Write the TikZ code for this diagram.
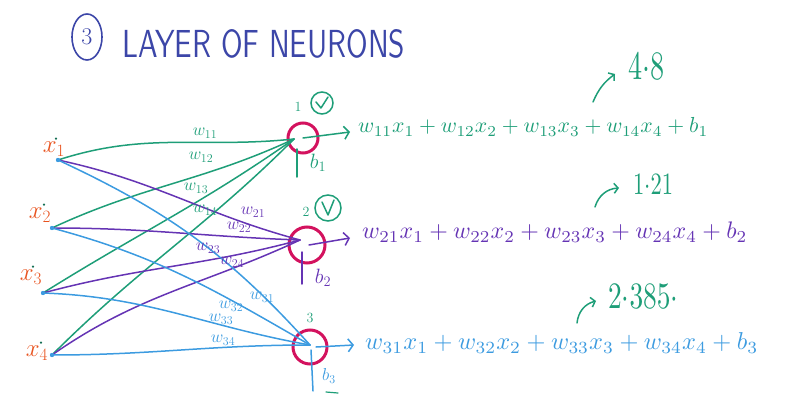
\documentclass[tikz,border=0pt]{standalone}
\usetikzlibrary{arrows.meta,shapes.geometric}
\definecolor{cgreen}{HTML}{1E9E78}
\definecolor{cpurple}{HTML}{6534B4}
\definecolor{cblue}{HTML}{3C9BE0}
\definecolor{cneuron}{HTML}{D3125E}
\definecolor{corange}{HTML}{E8531F}
\definecolor{ctitle}{HTML}{3C46A8}
\begin{document}
\begin{tikzpicture}[x=1pt,y=1pt,
  wire/.style={line width=1.5pt, line cap=round, line join=round},
  gw/.style={wire, draw=cgreen},
  pw/.style={wire, draw=cpurple},
  bw/.style={wire, draw=cblue},
  neuron/.style={circle, draw=cneuron, line width=3pt, inner sep=0pt},
  wlab/.style={inner sep=0pt, font=\fontsize{17}{17}\selectfont},
  xlab/.style={inner sep=0pt, text=corange, font=\fontsize{26}{26}\selectfont},
  barb/.style={-{Straight Barb[length=5pt,width=13pt,line width=1.5pt]}},
  smallbarb/.style={-{Straight Barb[length=4pt,width=10pt,line width=1.5pt]}},
  eqn/.style={inner sep=0pt, anchor=west},
  numlab/.style={inner sep=0pt, text=cgreen, font=\fontsize{14}{14}\selectfont},
  checkring/.style={circle, draw=cgreen, line width=1.5pt, inner sep=0pt},
]
\useasboundingbox (0,0) rectangle (794,-406);

% title
\node[ellipse, draw=ctitle, line width=1.6pt, minimum width=30pt, minimum height=46pt, inner sep=0pt,
      text=ctitle, font=\fontsize{24}{24}\selectfont] (tnum) at (87,-37) {3};
\node[anchor=west, inner sep=0pt, text=ctitle] (title) at (122,-44)
  {\resizebox{283pt}{28pt}{\sffamily LAYER OF NEURONS}};

% neurons
\node[neuron, minimum size=30pt] (n1) at (303,-138) {};
\node[neuron, minimum size=36pt] (n2) at (307,-245) {};
\node[neuron, minimum size=34pt] (n3) at (310,-347) {};
\coordinate (e1) at (294,-139);
\coordinate (e2) at (300,-240);
\coordinate (e3) at (310,-345);

% inputs
\coordinate (i1) at (58,-160);
\coordinate (i2) at (52,-228);
\coordinate (i3) at (43,-293);
\coordinate (i4) at (52,-355);
\node[xlab] (x1) at (54,-149) {$x_1$};
\node[xlab] (x2) at (40,-215) {$x_2$};
\node[xlab] (x3) at (31,-277) {$x_3$};
\node[xlab] (x4) at (37,-353) {$x_4$};
\fill[cgreen!70!black] ([xshift=2pt,yshift=3pt]x1.north) circle (1.2pt);
\fill[cgreen!70!black] ([xshift=4pt,yshift=3pt]x2.north) circle (1.2pt);
\fill[cgreen!70!black] ([xshift=2pt,yshift=3pt]x3.north) circle (1.2pt);
\fill[cgreen!70!black] ([xshift=4pt,yshift=3pt]x4.north) circle (1.2pt);

% wires to neuron 1 (green)
\draw[gw] (i1) to[out=18, in=186] (e1);
\draw[gw] (i2) to[out=25, in=205] (e1);
\draw[gw] (i3) to[out=32, in=215] (e1);
\draw[gw] (i4) to[out=45, in=225] (e1);
% wires to neuron 2 (purple)
\draw[pw] (i1) to[out=-12, in=165] (e2);
\draw[pw] (i2) to[out=0, in=178] (e2);
\draw[pw] (i3) to[out=15, in=195] (e2);
\draw[pw] (i4) to[out=35, in=205] (e2);
% wires to neuron 3 (blue)
\draw[bw] (i1) to[out=-25, in=132] (e3);
\draw[bw] (i2) to[out=-15, in=150] (e3);
\draw[bw] (i3) to[out=-2, in=170] (e3);
\draw[bw] (i4) to[out=0, in=180] (e3);

\foreach \i in {i1,i2,i3,i4} \fill[cblue] (\i) circle (2.2pt);

% weight labels
\node[wlab, text=cgreen] (w11) at (205,-133) {$w_{11}$};
\node[wlab, text=cgreen] (w12) at (201,-157) {$w_{12}$};
\node[wlab, text=cgreen] (w13) at (196,-188) {$w_{13}$};
\node[wlab, text=cgreen] (w14) at (205,-210) {$w_{14}$};
\node[wlab, text=cpurple] (w21) at (253,-212) {$w_{21}$};
\node[wlab, text=cpurple] (w22) at (239,-227) {$w_{22}$};
\node[wlab, text=cpurple] (w23) at (208,-248) {$w_{23}$};
\node[wlab, text=cpurple] (w24) at (232,-262) {$w_{24}$};
\node[wlab, text=cblue] (w31) at (262,-297) {$w_{31}$};
\node[wlab, text=cblue] (w32) at (231,-306) {$w_{32}$};
\node[wlab, text=cblue] (w33) at (221,-319) {$w_{33}$};
\node[wlab, text=cblue] (w34) at (223,-340) {$w_{34}$};

% neuron numbers and checks
\node[numlab] (l1) at (298,-107) {1};
\node[checkring, minimum size=22pt] (c1) at (322,-103) {};
\draw[gw] ([shift={(-6,1)}]c1.center) -- ([shift={(-1,-5)}]c1.center) -- ([shift={(6,6)}]c1.center);
\node[numlab] (l2) at (306,-212) {2};
\node[checkring, minimum size=26pt] (c2) at (328,-208) {};
\draw[gw] ([shift={(-6,6)}]c2.center) -- ([shift={(0,-7)}]c2.center) -- ([shift={(6,8)}]c2.center);
\node[numlab] (l3) at (310,-318) {3};

% biases
\coordinate (bb1) at (297,-177);
\coordinate (bt1) at (297,-149);
\draw[gw] (bb1) -- (bt1);
\node[inner sep=0pt, text=cgreen, font=\fontsize{20}{20}\selectfont] (b1) at (318,-163) {$b_1$};
\coordinate (bb2) at (302,-284);
\coordinate (bt2) at (302,-252);
\draw[pw] (bb2) -- (bt2);
\node[inner sep=0pt, text=cpurple, font=\fontsize{20}{20}\selectfont] (b2) at (323,-278) {$b_2$};
\coordinate (bb3) at (313,-391);
\coordinate (bt3) at (311,-350);
\draw[bw] (bb3) -- (bt3);
\node[inner sep=0pt, text=cblue, font=\fontsize{17}{17}\selectfont] (b3) at (329,-376) {$b_3$};
\coordinate (m1) at (326,-392);
\coordinate (m2) at (338,-393);
\draw[gw, line width=1.2pt] (m1) -- (m2);

% outputs
\coordinate (o1) at (350,-132);
\coordinate (o2) at (350,-238);
\coordinate (o3) at (354,-345);
\draw[gw, barb] (n1.center) -- (o1);
\draw[pw, barb] ([xshift=2pt]n2.center) -- (o2);
\draw[bw, barb] ([xshift=6pt]n3.center) -- (o3);

% equations
\node[eqn, text=cgreen] (eq1) at (358,-127)
  {\resizebox{350pt}{!}{$w_{11}x_1 + w_{12}x_2 + w_{13}x_3 + w_{14}x_4 + b_1$}};
\node[eqn, text=cpurple] (eq2) at (362,-232)
  {\resizebox{385pt}{!}{$w_{21}x_1 + w_{22}x_2 + w_{23}x_3 + w_{24}x_4 + b_2$}};
\node[eqn, text=cblue] (eq3) at (365,-343)
  {\resizebox{393pt}{!}{$w_{31}x_1 + w_{32}x_2 + w_{33}x_3 + w_{34}x_4 + b_3$}};

% results
\coordinate (r1s) at (593,-102);
\coordinate (r1e) at (615,-74);
\draw[gw, smallbarb] (r1s) to[bend left=15] (r1e);
\node[inner sep=0pt, text=cgreen, anchor=west] (v1) at (628,-66) {\resizebox{36pt}{26pt}{$4{\cdot}8$}};
\coordinate (r2s) at (595,-207);
\coordinate (r2e) at (619,-188);
\draw[gw, smallbarb] (r2s) to[bend left=35] (r2e);
\node[inner sep=0pt, text=cgreen, anchor=west] (v2) at (633,-184) {\resizebox{40pt}{20pt}{$1{\cdot}21$}};
\coordinate (r3s) at (577,-323);
\coordinate (r3e) at (596,-301);
\draw[gw, smallbarb] (r3s) to[bend left=35] (r3e);
\node[inner sep=0pt, text=cgreen, anchor=west] (v3) at (608,-296) {\resizebox{70pt}{24pt}{$2{\cdot}385{\cdot}$}};
\end{tikzpicture}
\end{document}
